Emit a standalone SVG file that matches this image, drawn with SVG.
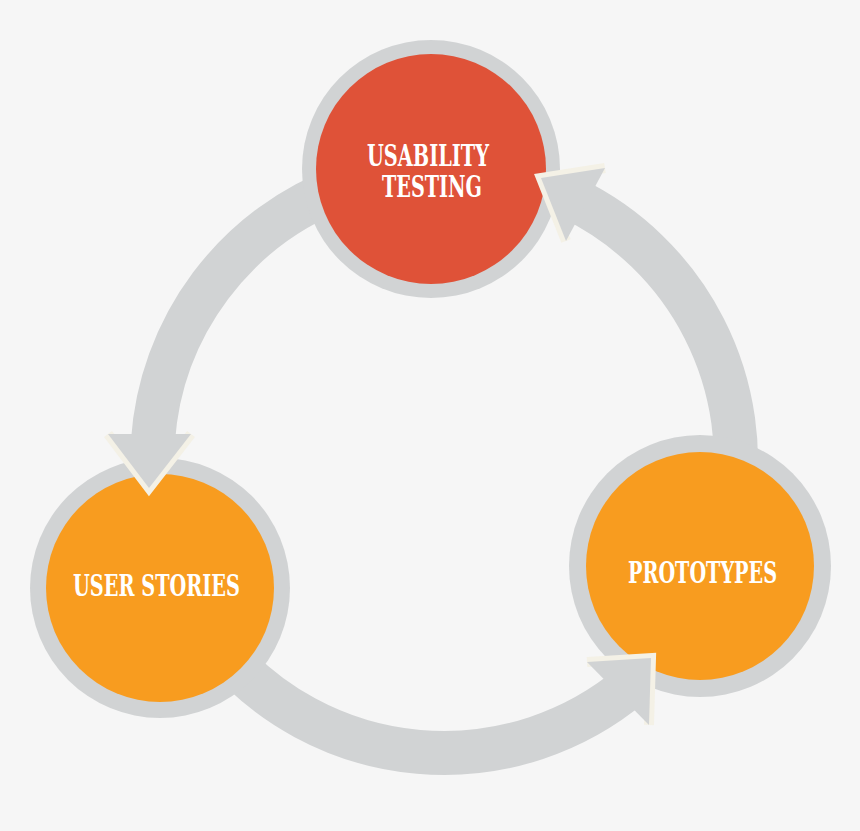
<svg xmlns="http://www.w3.org/2000/svg" width="860" height="831" viewBox="0 0 860 831">
  <style>
    .band { fill: none; stroke: #d1d3d4; stroke-width: 44; stroke-linecap: butt; }
    .ring { fill: #d1d3d4; }
    .red { fill: #df5238; }
    .orange { fill: #f89c1f; }
    .head { fill: #d1d3d4; }
    .edge { fill: none; stroke: #f4f1e6; stroke-width: 10; stroke-linejoin: miter; stroke-miterlimit: 10; }
    .label { font-family: "DejaVu Serif", "Liberation Serif", serif; font-weight: bold; font-size: 29px; fill: #ffffff; text-anchor: middle; }
  </style>
  <rect x="0" y="0" width="860" height="831" fill="#f6f6f6"/>

  <g id="connectors">
    <path class="band" d="M344.1,186.6 A292,292 0 0 0 152.9,441.8"/>
    <path class="band" d="M220.3,648.7 A292,292 0 0 0 631.7,684.7"/>
    <path class="band" d="M731.6,511.7 A292,292 0 0 0 572,198.6"/>
  </g>

  <g id="node-usability-testing">
    <circle class="ring" cx="431" cy="169" r="129"/>
    <circle class="red" cx="431" cy="169" r="115"/>
    <text class="label" x="428" y="166" textLength="122" lengthAdjust="spacingAndGlyphs">USABILITY</text>
    <text class="label" x="432" y="197" textLength="100" lengthAdjust="spacingAndGlyphs">TESTING</text>
  </g>

  <g id="node-user-stories">
    <circle class="ring" cx="160" cy="588" r="130"/>
    <circle class="orange" cx="160" cy="588" r="114"/>
    <text class="label" x="156.5" y="596" textLength="167" lengthAdjust="spacingAndGlyphs">USER STORIES</text>
  </g>

  <g id="node-prototypes">
    <circle class="ring" cx="700" cy="566" r="131"/>
    <circle class="orange" cx="700" cy="566" r="114"/>
    <text class="label" x="702.5" y="583" textLength="149" lengthAdjust="spacingAndGlyphs">PROTOTYPES</text>
  </g>

  <g id="arrowheads">
    <polyline class="edge" points="108,434 149,488 191,434"/>
    <polygon class="head" points="108,434 149,488 191,434"/>
    <polyline class="edge" points="587,662 651,658 649,725"/>
    <polygon class="head" points="587,662 651,658 649,725"/>
    <polyline class="edge" points="605,168 541,178 566,241"/>
    <polygon class="head" points="605,168 541,178 566,241"/>
  </g>
</svg>
